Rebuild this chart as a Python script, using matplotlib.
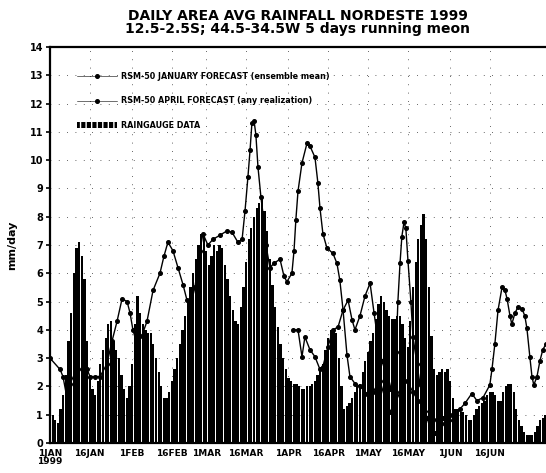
import matplotlib
matplotlib.use("Agg")
import matplotlib.pyplot as plt
from matplotlib.lines import Line2D
from matplotlib.patches import Patch

# x axis = days since 1 JAN 1999
tick_days = [0, 15, 31, 46, 59, 74, 90, 105, 120, 135, 151, 166]
tick_labels = ["1JAN\n1999", "16JAN", "1FEB", "16FEB", "1MAR", "16MAR",
               "1APR", "16APR", "1MAY", "16MAY", "1JUN", "16JUN"]

# raingauge data, 5 day running mean, one value per day from 1 JAN
rain = [1.0, 1.0, 0.8, 0.7, 1.2, 1.7, 2.4, 3.6, 4.6, 6.0,
        6.9, 7.1, 6.6, 5.8, 3.6, 2.4, 1.9, 1.7, 2.2, 2.8,
        3.3, 3.7, 4.2, 4.3, 3.6, 3.3, 3.0, 2.4, 1.9, 1.6,
        2.0, 2.8, 4.2, 5.2, 4.6, 4.2, 4.0, 3.9, 3.9, 3.5,
        3.0, 2.5, 2.0, 1.6, 1.6, 1.8, 2.2, 2.6, 3.0, 3.5,
        4.0, 4.5, 5.0, 5.5, 6.0, 6.5, 7.0, 7.4, 7.4, 6.8,
        6.3, 6.6, 7.0, 6.8, 7.0, 6.9, 6.3, 5.8, 5.2, 4.7,
        4.3, 4.2, 4.8, 5.5, 6.4, 7.2, 7.6, 8.0, 8.3, 8.5,
        8.7, 8.2, 7.5, 6.5, 5.6, 4.8, 4.1, 3.5, 3.0, 2.6,
        2.3, 2.2, 2.1, 2.1, 2.0, 1.9, 1.9, 2.0, 2.0, 2.1,
        2.2, 2.4, 2.6, 2.8, 3.3, 3.7, 4.0, 4.0, 3.9, 3.0,
        2.0, 1.2, 1.3, 1.4, 1.6, 1.8, 2.0, 2.1, 2.5, 2.9,
        3.2, 3.6, 3.9, 4.4, 4.9, 5.2, 5.0, 4.7, 4.5, 4.4,
        4.4, 4.5, 4.5, 4.2, 3.7, 3.4, 4.3, 5.5, 6.4, 7.2,
        7.7, 8.1, 7.2, 5.5, 3.8, 2.6, 2.4, 2.5, 2.6, 2.5,
        2.6, 2.2, 1.6, 1.2, 1.2, 1.1, 1.1, 1.0, 0.8, 0.8,
        1.0, 1.2, 1.3, 1.4, 1.5, 1.7, 1.8, 1.8, 1.7, 1.5,
        1.5, 1.8, 2.0, 2.1, 2.1, 1.8, 1.2, 0.8, 0.6, 0.4,
        0.3, 0.3, 0.3, 0.4, 0.6, 0.8, 0.9, 1.0]
rain_days = list(range(len(rain)))

# RSM-50 january forecast (ensemble mean)
jan_days = [0, 3.8, 4.9, 6.4, 7.5, 10.2, 12.1, 14.0, 15.1, 17.0,
            18.9, 21.5, 23.4, 25.3, 27.2, 29.1, 30.2, 31.3, 32.8, 34.7,
            36.6, 38.9, 41.5, 43.0, 44.5, 46.4, 48.3, 50.2, 51.7, 52.8,
            54.7, 56.6, 57.7, 59.6, 61.5, 64.2, 66.8, 68.7, 70.9, 72.5,
            73.6, 74.7, 75.5, 76.2, 77.0, 77.7, 78.5, 79.6, 80.4, 81.5,
            83.0, 84.5, 86.8, 88.3, 89.4, 91.3, 92.1, 92.8, 93.6, 95.1,
            97.0, 98.1, 100.0, 101.1, 101.9, 103.0, 104.5, 106.8, 108.3, 109.4,
            110.6, 112.1, 113.2, 115.1, 117.0, 119.6, 121.9, 124.5, 126.4, 128.3,
            130.2, 132.1, 134.7, 137.0, 138.9, 140.8, 143.4, 146.0, 148.3, 150.9]
jan_fcst = [3.0, 2.6, 2.35, 1.6, 2.1, 2.6, 2.6, 2.6, 2.35, 2.35,
            2.35, 2.8, 3.6, 4.3, 5.1, 5.0, 4.6, 4.0, 3.5, 3.8,
            4.3, 5.4, 6.0, 6.6, 7.1, 6.8, 6.2, 5.6, 5.05, 4.8,
            5.5, 6.8, 7.4, 7.0, 7.2, 7.35, 7.5, 7.45, 7.1, 7.2,
            8.2, 9.4, 10.35, 11.3, 11.4, 10.9, 9.75, 8.7, 8.1, 7.0,
            6.2, 6.35, 6.5, 5.9, 5.7, 6.0, 6.8, 7.9, 8.9, 9.9,
            10.6, 10.5, 10.1, 9.2, 8.3, 7.4, 6.9, 6.7, 6.35, 5.75,
            4.7, 3.1, 2.35, 2.1, 2.0, 1.75, 1.8, 2.2, 1.6, 1.1,
            1.4, 1.8, 2.2, 1.8, 1.5, 1.3, 1.0, 0.8, 0.9, 1.0]

# RSM-50 april forecast
apr_days = [91.7, 93.6, 95.1, 96.2, 98.1, 100.0, 101.9, 103.0, 104.9, 106.8,
            108.7, 110.6, 112.5, 114.0, 115.1, 117.0, 118.9, 120.8, 122.3, 123.8,
            125.3, 127.2, 128.3, 129.8, 130.6, 131.3, 132.1, 132.8, 133.6, 134.3,
            135.1, 136.2, 137.0, 138.5, 139.6, 140.8, 142.3, 143.4, 145.3, 147.2,
            149.1, 152.1, 154.7, 156.6, 159.2, 161.1, 163.4, 166.0, 166.8, 167.9,
            169.1, 170.6, 171.7, 172.5, 173.6, 174.3, 175.5, 176.6, 178.1, 179.2,
            180.0, 181.1, 181.9, 182.6, 183.8, 184.9, 186.0, 187.2]
apr_fcst = [4.0, 4.0, 3.05, 3.75, 3.3, 3.05, 2.6, 2.7, 3.4, 4.0,
            4.1, 4.7, 5.05, 4.35, 4.0, 4.5, 5.2, 5.65, 4.6, 3.6,
            2.9, 2.35, 1.9, 2.5, 3.2, 5.0, 6.35, 7.3, 7.8, 7.6,
            6.45, 5.0, 3.75, 2.8, 2.1, 1.4, 0.9, 0.55, 0.35, 0.5,
            0.7, 0.8, 1.2, 1.4, 1.75, 1.5, 1.6, 2.05, 2.6, 3.5,
            4.7, 5.5, 5.4, 5.1, 4.5, 4.2, 4.6, 4.8, 4.75, 4.5,
            4.05, 3.05, 2.35, 2.05, 2.35, 2.9, 3.3, 3.5]

fig = plt.figure(figsize=(5.46, 4.73), dpi=100)
ax = fig.add_axes([50 / 546, 30 / 473, 496 / 546, 396 / 473])

ax.bar(rain_days, rain, width=0.85, color="black", linewidth=0, zorder=2)
ax.plot(jan_days, jan_fcst, color="black", lw=1.0, marker="o", ms=2.6, zorder=3)
ax.plot(apr_days, apr_fcst, color="black", lw=1.0, marker="o", ms=2.6, zorder=3)

ax.set_xlim(0, 187.2)
ax.set_ylim(0, 14)
ax.set_yticks(range(0, 15))
ax.set_xticks(tick_days)
ax.set_xticklabels(tick_labels, fontsize=6.5, fontweight="bold", linespacing=0.9)
ax.tick_params(axis="y", labelsize=7, direction="out", length=3, width=1.2, pad=2)
ax.tick_params(axis="x", direction="in", length=4, width=1.2, pad=4)
for lab in ax.get_yticklabels():
    lab.set_fontweight("bold")
ax.set_ylabel("mm/day", fontsize=8, fontweight="bold", labelpad=9)

ax.grid(True, color="black", linestyle=(0, (1, 9)), linewidth=0.6, alpha=0.8)
ax.set_axisbelow(True)
for side in ["left", "bottom", "top"]:
    ax.spines[side].set_linewidth(1.6)
ax.spines["right"].set_visible(False)

handles = [
    Line2D([], [], color="black", lw=0.4, marker="o", ms=2.6),
    Line2D([], [], color="black", lw=0.4, marker="o", ms=2.6),
    Patch(facecolor="black", hatch="|||", edgecolor="white", lw=0),
]
names = ["RSM-50 JANUARY FORECAST (ensemble mean)",
         "RSM-50 APRIL FORECAST (any realization)",
         "RAINGAUGE DATA"]
ax.legend(handles, names, loc="upper left", bbox_to_anchor=(0.04, 0.955),
          frameon=False, handlelength=5.0, labelspacing=1.9,
          handletextpad=0.4, prop={"weight": "bold", "size": 5.8})

fig.text(0.545, 0.982, "DAILY AREA AVG RAINFALL NORDESTE 1999\n"
         "12.5-2.5S; 44.5-34.5W 5 days running meon",
         ha="center", va="top", fontsize=10, fontweight="bold",
         linespacing=0.95)

fig.savefig("out.png", dpi=100)
